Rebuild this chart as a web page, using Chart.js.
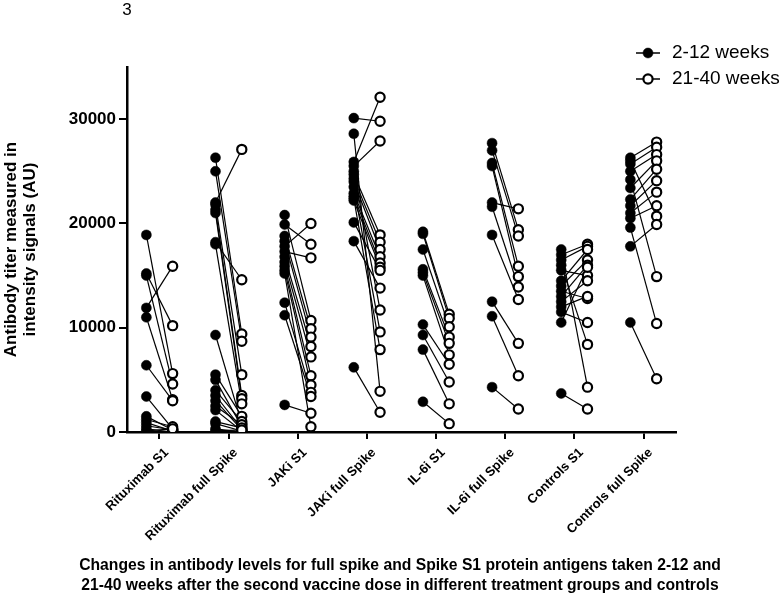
<!DOCTYPE html>
<html>
<head>
<meta charset="utf-8">
<script src="https://cdn.jsdelivr.net/npm/chart.js@4.4.1/dist/chart.umd.min.js"></script>
<style>
  html, body { margin: 0; padding: 0; background: #fff; }
  #wrap { width: 782px; height: 601px; }
</style>
</head>
<body>
<div id="wrap"><canvas id="chart" width="782" height="601"></canvas></div>
<script>
// categories and tick labels
const categories = ['Rituximab S1', 'Rituximab full Spike', 'JAKi S1', 'JAKi full Spike',
                    'IL-6i S1', 'IL-6i full Spike', 'Controls S1', 'Controls full Spike'];
const yTicks = [0, 10000, 20000, 30000];
const seriesLabels = ['2-12 weeks', '21-40 weeks'];
const xTitle = ['Changes in antibody levels for full spike and Spike S1 protein antigens taken 2-12 and',
                '21-40 weeks after the second vaccine dose in different treatment groups and controls'];

// paired values, early (2-12 weeks) and late (21-40 weeks), same order = same subject
const rituximabS1Early = [18900, 15200, 15000, 11900, 11000, 6400, 3400, 1500, 1200, 900, 600, 300, 100];
const rituximabS1Late  = [5600, 10200, 4600, 15900, 3100, 3000, 300, 200, 500, 100, 200, 0, 300];

const rituximabFullEarly = [26300, 25000, 22000, 21800, 21300, 21000, 18200, 18000, 9300, 5500, 5000, 4000, 3500, 3000, 2500, 2100, 1000, 800, 300, 100];
const rituximabFullLate  = [9400, 8700, 27100, 5500, 3500, 3200, 14600, 2700, 800, 1500, 500, 1000, 300, 200, 700, 100, 400, 100, 0, 200];

const jakiS1Early = [20800, 19900, 18800, 18300, 17800, 17300, 16800, 16300, 15900, 15500, 15200, 12400, 11200, 2600];
const jakiS1Late  = [10700, 18000, 9900, 9100, 20000, 16700, 8200, 7200, 5400, 4500, 500, 3800, 3400, 1800];

const jakiFullEarly = [30100, 28600, 25900, 25500, 25000, 24700, 24300, 24000, 23500, 22900, 22600, 22400, 22200, 20100, 18300, 6200];
const jakiFullLate  = [29800, 3900, 32100, 27900, 11700, 18900, 18200, 17500, 9600, 16800, 16200, 7900, 15800, 15500, 13800, 1900];

const il6S1Early = [19200, 19000, 17500, 15600, 15300, 15000, 10300, 9300, 7900, 2900];
const il6S1Late  = [11300, 10900, 10100, 9100, 8500, 7400, 6500, 4800, 2700, 800];

const il6FullEarly = [27700, 27000, 25800, 25500, 22000, 21600, 18900, 12500, 11100, 4300];
const il6FullLate  = [19400, 18800, 15900, 14900, 21400, 13900, 12700, 8500, 5400, 2200];

const controlsS1Early = [17500, 17000, 16500, 16000, 15500, 14500, 14000, 13500, 13000, 12500, 12000, 11500, 10500, 3700];
const controlsS1Late  = [4300, 18000, 17800, 8400, 15000, 17500, 16500, 12800, 16000, 14500, 13000, 10500, 15800, 2200];

const controlsFullEarly = [26300, 26000, 25700, 25000, 24200, 23400, 22300, 21700, 21000, 20500, 19600, 17800, 10500];
const controlsFullLate  = [27800, 20700, 27300, 26600, 14900, 26000, 25200, 24100, 23000, 21700, 10400, 19900, 5100];

const groups = [
  [rituximabS1Early, rituximabS1Late],
  [rituximabFullEarly, rituximabFullLate],
  [jakiS1Early, jakiS1Late],
  [jakiFullEarly, jakiFullLate],
  [il6S1Early, il6S1Late],
  [il6FullEarly, il6FullLate],
  [controlsS1Early, controlsS1Late],
  [controlsFullEarly, controlsFullLate]
];

const shift = 0.19; // side offset of the two time points inside a group

Chart.defaults.font.family = "'Liberation Sans', Arial, sans-serif";
Chart.defaults.color = '#000';

const earlyPoints = [];
const latePoints = [];
const pairLines = [];
groups.forEach(function (g, i) {
  g[0].forEach(function (v, j) {
    earlyPoints.push({ x: i - shift, y: v });
    latePoints.push({ x: i + shift, y: g[1][j] });
    pairLines.push({
      type: 'line',
      label: '',
      data: [{ x: i - shift, y: v }, { x: i + shift, y: g[1][j] }],
      borderColor: '#000',
      borderWidth: 1.2,
      pointRadius: 0,
      fill: false,
      order: 2
    });
  });
});

const datasets = [
  {
    type: 'scatter',
    label: seriesLabels[0],
    data: earlyPoints,
    pointRadius: 5,
    pointBackgroundColor: '#000',
    pointBorderColor: '#000',
    pointBorderWidth: 0.5,
    order: 0
  },
  {
    type: 'scatter',
    label: seriesLabels[1],
    data: latePoints,
    pointRadius: 4.6,
    pointBackgroundColor: '#fff',
    pointBorderColor: '#000',
    pointBorderWidth: 2.2,
    order: 0
  }
].concat(pairLines);

// legend drawn as line + marker, like the original figure; plus the loose texts
const sideLegend = {
  id: 'sideLegend',
  afterDraw(chart) {
    const ctx = chart.ctx;
    ctx.save();
    // page number above the plot
    ctx.fillStyle = '#000';
    ctx.font = "17px 'Liberation Sans', Arial, sans-serif";
    ctx.textAlign = 'center';
    ctx.textBaseline = 'middle';
    ctx.fillText('3', 127, 10);

    // x-axis caption, two lines, not squeezed to the plot width
    ctx.font = "bold 15.7px 'Liberation Sans', Arial, sans-serif";
    xTitle.forEach(function (t, k) {
      ctx.fillText(t, 400, 566 + k * 19.5);
    });

    [0, 1].forEach(function (k) {
      const ds = chart.data.datasets[k];
      const y = 53 + k * 26;
      ctx.strokeStyle = '#000';
      ctx.lineWidth = 1.5;
      ctx.beginPath();
      ctx.moveTo(636, y);
      ctx.lineTo(660, y);
      ctx.stroke();
      ctx.beginPath();
      ctx.arc(648, y, ds.pointRadius, 0, Math.PI * 2);
      ctx.fillStyle = ds.pointBackgroundColor;
      ctx.fill();
      ctx.lineWidth = ds.pointBorderWidth;
      ctx.stroke();
      ctx.fillStyle = '#000';
      ctx.font = "19px 'Liberation Sans', Arial, sans-serif";
      ctx.textAlign = 'left';
      ctx.fillText(ds.label, 672, y);
    });
    ctx.restore();
  }
};

new Chart(document.getElementById('chart'), {
  data: { datasets: datasets },
  plugins: [sideLegend],
  options: {
    responsive: false,
    animation: false,
    layout: { padding: { top: 67, right: 106, left: 0, bottom: 0 } },
    plugins: {
      legend: { display: false },
      tooltip: { enabled: false }
    },
    scales: {
      x: {
        type: 'linear',
        min: -0.47,
        max: 7.47,
        afterBuildTicks: function (scale) {
          scale.ticks = categories.map(function (c, i) { return { value: i }; });
        },
        afterFit: function (scale) { scale.height = 169; },
        ticks: {
          autoSkip: false,
          minRotation: 45,
          maxRotation: 45,
          padding: 6,
          labelOffset: 7,
          font: { size: 13, weight: 'bold' },
          callback: function (v) { return categories[v]; }
        },
        grid: { drawOnChartArea: false, drawTicks: true, tickLength: 7, color: '#000', lineWidth: 2 },
        border: { display: true, color: '#000', width: 2.5 }
      },
      y: {
        type: 'linear',
        min: 0,
        max: 35000,
        afterBuildTicks: function (scale) {
          scale.ticks = yTicks.map(function (v) { return { value: v }; });
        },
        afterFit: function (scale) { scale.width = 127; },
        ticks: {
          padding: 3,
          font: { size: 17, weight: 'bold' },
          callback: function (v) { return String(v); }
        },
        grid: { drawOnChartArea: false, drawTicks: true, tickLength: 8, color: '#000', lineWidth: 2 },
        border: { display: true, color: '#000', width: 2.5 },
        title: {
          display: true,
          text: ['Antibody titer measured in', 'intensity signals (AU)'],
          font: { size: 17, weight: 'bold', lineHeight: 1.1 },
          padding: { top: 2, bottom: 0 }
        }
      }
    }
  }
});
</script>
</body>
</html>
